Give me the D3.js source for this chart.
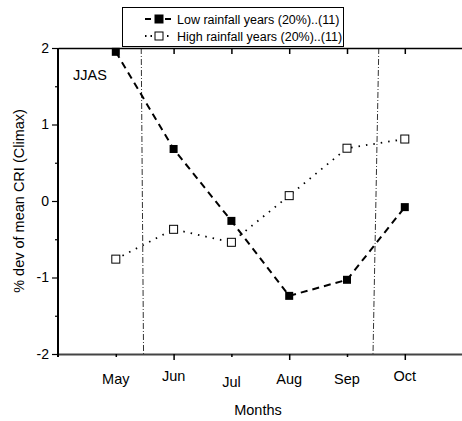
<!doctype html>
<html>
<head>
<meta charset="utf-8">
<script src="https://d3js.org/d3.v7.min.js"></script>
<style>
  body { margin: 0; background: #fff; }
  text { font-family: Arial, "Liberation Sans", sans-serif; fill: #000; }
</style>
</head>
<body>
<div id="chart"></div>
<script>
  // data
  const months = ['May', 'Jun', 'Jul', 'Aug', 'Sep', 'Oct'];
  const monthNum = [5, 6, 7, 8, 9, 10];
  const lowRain = [1.95, 0.68, -0.26, -1.24, -1.03, -0.08];
  const highRain = [-0.76, -0.37, -0.54, 0.07, 0.69, 0.81];
  const yTicks = [-2, -1, 0, 1, 2];
  // the two dash-dot marker lines (x at top, x at bottom)
  const markTop = [5.44, 9.55];
  const markBottom = [5.48, 9.45];
  // month labels are a little staggered in the original
  const labelShift = [0, -3, 3, 0, 0, -3];

  const W = 462, H = 421;
  const m = {left: 58, top: 48, bottom: 354};
  const x = d3.scaleLinear().domain([4, 11]).range([m.left, m.left + 7 * 57.8]);
  const y = d3.scaleLinear().domain([-2, 2]).range([m.bottom, m.top]);

  const svg = d3.select('#chart').append('svg')
    .attr('width', W).attr('height', H);

  // dash-dot verticals
  svg.append('g').selectAll('line')
    .data(markTop)
    .join('line')
    .attr('x1', d => x(d)).attr('y1', y(2))
    .attr('x2', (d, i) => x(markBottom[i])).attr('y2', y(-2))
    .attr('stroke', '#333').attr('stroke-width', 1)
    .attr('stroke-dasharray', '6,2,1,2');

  // axes
  const xAxisBottom = svg.append('g').attr('transform', `translate(0,${m.bottom})`)
    .call(d3.axisBottom(x).tickValues([5, 6, 7, 8, 9, 10]).tickFormat('').tickSize(6).tickSizeOuter(0));
  xAxisBottom.selectAll('.tick line').attr('y2', d => d % 2 === 0 ? 6 : 3).attr('stroke-width', 1.5);
  xAxisBottom.select('.domain').attr('stroke', '#444').attr('stroke-width', 2);

  const xAxisTop = svg.append('g').attr('transform', `translate(0,${m.top})`)
    .call(d3.axisBottom(x).tickValues([6, 7, 8, 9, 10]).tickFormat('').tickSize(6).tickSizeOuter(0));
  xAxisTop.selectAll('.tick line').attr('stroke-width', 1.5);
  xAxisTop.select('.domain').attr('stroke', '#000').attr('stroke-width', 1.5);

  const yAxis = svg.append('g').attr('transform', `translate(${m.left},0)`)
    .call(d3.axisLeft(y).tickValues(d3.range(-2, 2.01, 0.5)).tickSize(5).tickSizeOuter(0)
      .tickFormat(d => yTicks.includes(d) ? String(d) : ''));
  yAxis.selectAll('.tick line').attr('x2', d => Number.isInteger(d) ? -6 : -3).attr('stroke-width', 1.2);
  yAxis.select('.domain').attr('stroke', '#000').attr('stroke-width', 2)
    .attr('d', `M0,${m.top}V${m.bottom + 3}`);
  yAxis.attr('font-size', 14).attr('font-family', 'Arial, "Liberation Sans", sans-serif');
  yAxis.selectAll('.tick text').attr('x', -9);

  // month labels
  svg.append('g').selectAll('text')
    .data(months)
    .join('text')
    .attr('x', (d, i) => x(monthNum[i]))
    .attr('y', (d, i) => 384 + labelShift[i])
    .attr('text-anchor', 'middle')
    .attr('font-size', 14.5)
    .text(d => d);

  svg.append('text').attr('x', 258).attr('y', 415)
    .attr('text-anchor', 'middle').attr('font-size', 14.5).text('Months');

  svg.append('text')
    .attr('transform', `translate(24,${(m.top + m.bottom) / 2}) rotate(-90)`)
    .attr('text-anchor', 'middle').attr('font-size', 14.5)
    .text('% dev of mean CRI (Climax)');

  svg.append('text').attr('x', 73).attr('y', 80).attr('font-size', 14.5).text('JJAS');

  // series
  const line = d3.line().x((d, i) => x(monthNum[i])).y(d => y(d));

  svg.append('path').datum(lowRain)
    .attr('d', line).attr('fill', 'none')
    .attr('stroke', '#000').attr('stroke-width', 2)
    .attr('stroke-dasharray', '7,5');
  svg.append('path').datum(highRain)
    .attr('d', line).attr('fill', 'none')
    .attr('stroke', '#000').attr('stroke-width', 1.8)
    .attr('stroke-dasharray', '1.5,6');

  svg.append('g').selectAll('rect')
    .data(highRain)
    .join('rect')
    .attr('x', (d, i) => x(monthNum[i]) - 4).attr('y', d => y(d) - 4)
    .attr('width', 8).attr('height', 8)
    .attr('fill', '#fff').attr('stroke', '#000').attr('stroke-width', 1);

  svg.append('g').selectAll('rect')
    .data(lowRain)
    .join('rect')
    .attr('x', (d, i) => x(monthNum[i]) - 4).attr('y', d => y(d) - 4)
    .attr('width', 8).attr('height', 8)
    .attr('fill', '#000');

  // legend
  const lg = svg.append('g');
  lg.append('rect').attr('x', 122.5).attr('y', 7.5).attr('width', 221).attr('height', 39)
    .attr('fill', '#fff').attr('stroke', '#000').attr('stroke-width', 1);
  const entries = [
    {label: 'Low rainfall years (20%)..(11)', dash: '6,4', fill: '#000', w: 2},
    {label: 'High rainfall years (20%)..(11)', dash: '1.5,4', fill: '#fff', w: 1.8}
  ];
  entries.forEach((e, i) => {
    const cy = 19 + i * 17;
    lg.append('line').attr('x1', 145).attr('x2', 171).attr('y1', cy).attr('y2', cy)
      .attr('stroke', '#000').attr('stroke-width', e.w).attr('stroke-dasharray', e.dash);
    lg.append('rect').attr('x', 155).attr('y', cy - 4).attr('width', 8).attr('height', 8)
      .attr('fill', e.fill).attr('stroke', '#000').attr('stroke-width', 1);
    lg.append('text').attr('x', 177).attr('y', cy + 4.5).attr('font-size', 12.5).text(e.label);
  });
</script>
</body>
</html>
